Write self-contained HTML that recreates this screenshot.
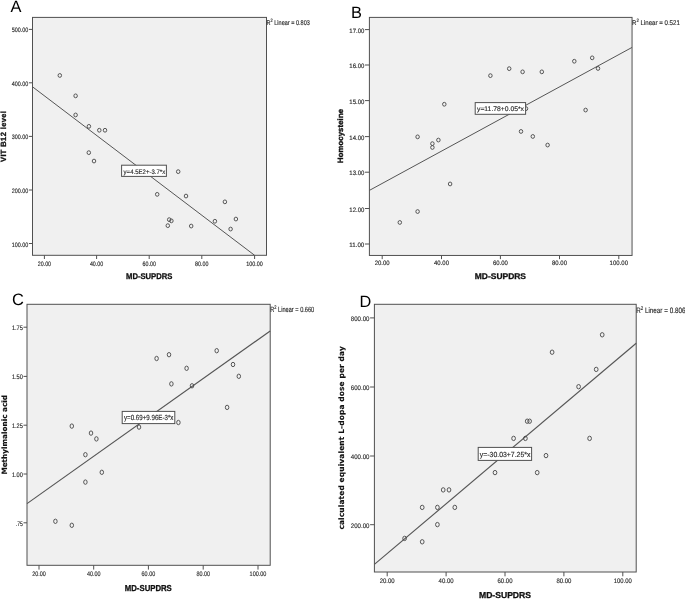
<!DOCTYPE html>
<html lang="en">
<head>
<meta charset="utf-8">
<title>Figure</title>
<style>
html,body{margin:0;padding:0;background:#fff;}
body{width:685px;height:599px;overflow:hidden;}
svg{display:block;font-family:'Liberation Sans', Arial, sans-serif;text-rendering:geometricPrecision;}
</style>
</head>
<body>
<svg width="685" height="599" viewBox="0 0 685 599" style="font-family:'Liberation Sans', Arial, sans-serif">
<rect x="0" y="0" width="685" height="599" fill="#ffffff"/>
<rect x="32.5" y="17.4" width="234.00" height="237.90" fill="#f0f0f0" stroke="#505050" stroke-width="1"/>
<line x1="32.5" y1="86.8" x2="254.6" y2="255.3" stroke="#555" stroke-width="1.0"/>
<ellipse cx="59.8" cy="75.45" rx="1.75" ry="1.9" fill="none" stroke="#464646" stroke-width="0.9"/>
<ellipse cx="75.6" cy="95.85" rx="1.75" ry="1.9" fill="none" stroke="#464646" stroke-width="0.9"/>
<ellipse cx="75.6" cy="114.95" rx="1.75" ry="1.9" fill="none" stroke="#464646" stroke-width="0.9"/>
<ellipse cx="88.9" cy="126.35" rx="1.75" ry="1.9" fill="none" stroke="#464646" stroke-width="0.9"/>
<ellipse cx="99.3" cy="130.25" rx="1.75" ry="1.9" fill="none" stroke="#464646" stroke-width="0.9"/>
<ellipse cx="105" cy="130.25" rx="1.75" ry="1.9" fill="none" stroke="#464646" stroke-width="0.9"/>
<ellipse cx="88.8" cy="152.65" rx="1.75" ry="1.9" fill="none" stroke="#464646" stroke-width="0.9"/>
<ellipse cx="94" cy="161.05" rx="1.75" ry="1.9" fill="none" stroke="#464646" stroke-width="0.9"/>
<ellipse cx="178.2" cy="171.65" rx="1.75" ry="1.9" fill="none" stroke="#464646" stroke-width="0.9"/>
<ellipse cx="157.2" cy="194.35" rx="1.75" ry="1.9" fill="none" stroke="#464646" stroke-width="0.9"/>
<ellipse cx="186" cy="196.05" rx="1.75" ry="1.9" fill="none" stroke="#464646" stroke-width="0.9"/>
<ellipse cx="224.9" cy="201.85" rx="1.75" ry="1.9" fill="none" stroke="#464646" stroke-width="0.9"/>
<ellipse cx="169.2" cy="219.65" rx="1.75" ry="1.9" fill="none" stroke="#464646" stroke-width="0.9"/>
<ellipse cx="171.4" cy="220.85" rx="1.75" ry="1.9" fill="none" stroke="#464646" stroke-width="0.9"/>
<ellipse cx="167.8" cy="225.65" rx="1.75" ry="1.9" fill="none" stroke="#464646" stroke-width="0.9"/>
<ellipse cx="191.2" cy="226.05" rx="1.75" ry="1.9" fill="none" stroke="#464646" stroke-width="0.9"/>
<ellipse cx="214.9" cy="221.25" rx="1.75" ry="1.9" fill="none" stroke="#464646" stroke-width="0.9"/>
<ellipse cx="230.6" cy="229.05" rx="1.75" ry="1.9" fill="none" stroke="#464646" stroke-width="0.9"/>
<ellipse cx="235.9" cy="219.05" rx="1.75" ry="1.9" fill="none" stroke="#464646" stroke-width="0.9"/>
<line x1="28.9" y1="29.4" x2="32.5" y2="29.4" stroke="#505050" stroke-width="1"/>
<text x="28.30" y="32.40" font-size="6.3" text-anchor="end" textLength="16.6" lengthAdjust="spacingAndGlyphs" fill="#2a2a2a" stroke="#2a2a2a" stroke-width="0.15">500.00</text>
<line x1="28.9" y1="82.8" x2="32.5" y2="82.8" stroke="#505050" stroke-width="1"/>
<text x="28.30" y="85.80" font-size="6.3" text-anchor="end" textLength="16.6" lengthAdjust="spacingAndGlyphs" fill="#2a2a2a" stroke="#2a2a2a" stroke-width="0.15">400.00</text>
<line x1="28.9" y1="136.4" x2="32.5" y2="136.4" stroke="#505050" stroke-width="1"/>
<text x="28.30" y="139.40" font-size="6.3" text-anchor="end" textLength="16.6" lengthAdjust="spacingAndGlyphs" fill="#2a2a2a" stroke="#2a2a2a" stroke-width="0.15">300.00</text>
<line x1="28.9" y1="190" x2="32.5" y2="190" stroke="#505050" stroke-width="1"/>
<text x="28.30" y="193.00" font-size="6.3" text-anchor="end" textLength="16.6" lengthAdjust="spacingAndGlyphs" fill="#2a2a2a" stroke="#2a2a2a" stroke-width="0.15">200.00</text>
<line x1="28.9" y1="243.5" x2="32.5" y2="243.5" stroke="#505050" stroke-width="1"/>
<text x="28.30" y="246.50" font-size="6.3" text-anchor="end" textLength="16.6" lengthAdjust="spacingAndGlyphs" fill="#2a2a2a" stroke="#2a2a2a" stroke-width="0.15">100.00</text>
<line x1="44.4" y1="255.3" x2="44.4" y2="259.0" stroke="#505050" stroke-width="1"/>
<text x="44.4" y="265.5" font-size="6.3" text-anchor="middle" textLength="13.4" lengthAdjust="spacingAndGlyphs" fill="#2a2a2a" stroke="#2a2a2a" stroke-width="0.15">20.00</text>
<line x1="96.6" y1="255.3" x2="96.6" y2="259.0" stroke="#505050" stroke-width="1"/>
<text x="96.6" y="265.5" font-size="6.3" text-anchor="middle" textLength="13.4" lengthAdjust="spacingAndGlyphs" fill="#2a2a2a" stroke="#2a2a2a" stroke-width="0.15">40.00</text>
<line x1="149.2" y1="255.3" x2="149.2" y2="259.0" stroke="#505050" stroke-width="1"/>
<text x="149.2" y="265.5" font-size="6.3" text-anchor="middle" textLength="13.4" lengthAdjust="spacingAndGlyphs" fill="#2a2a2a" stroke="#2a2a2a" stroke-width="0.15">60.00</text>
<line x1="201.8" y1="255.3" x2="201.8" y2="259.0" stroke="#505050" stroke-width="1"/>
<text x="201.8" y="265.5" font-size="6.3" text-anchor="middle" textLength="13.4" lengthAdjust="spacingAndGlyphs" fill="#2a2a2a" stroke="#2a2a2a" stroke-width="0.15">80.00</text>
<line x1="254.6" y1="255.3" x2="254.6" y2="259.0" stroke="#505050" stroke-width="1"/>
<text x="254.6" y="265.5" font-size="6.3" text-anchor="middle" textLength="16.6" lengthAdjust="spacingAndGlyphs" fill="#2a2a2a" stroke="#2a2a2a" stroke-width="0.15">100.00</text>
<text x="126" y="278.8" font-size="8.2" font-weight="bold" textLength="46.4" lengthAdjust="spacingAndGlyphs" fill="#111" stroke="#111" stroke-width="0.3">MD-SUPDRS</text>
<text transform="translate(6.0,162) rotate(-90)" font-size="7.6" font-weight="bold" textLength="51" lengthAdjust="spacing" fill="#111" stroke="#111" stroke-width="0.3">VIT B12 level</text>
<rect x="121.6" y="165.2" width="44.80" height="11.20" fill="#fff" stroke="#505050" stroke-width="1"/>
<text x="123.6" y="173.8" font-size="6.6" textLength="41.6" lengthAdjust="spacingAndGlyphs" fill="#2a2a2a" stroke="#2a2a2a" stroke-width="0.15">y=4.5E2+-3.7*x</text>
<text x="266.6" y="24.7" font-size="6.8" textLength="43.2" lengthAdjust="spacingAndGlyphs" fill="#2a2a2a" stroke="#2a2a2a" stroke-width="0.15">R<tspan font-size="4.76" dy="-2.45">2</tspan><tspan dy="2.45"> Linear = 0.803</tspan></text>
<text x="10.6" y="12.4" font-size="16.4" fill="#000">A</text>
<rect x="369.4" y="17.4" width="262.65" height="238.05" fill="#f0f0f0" stroke="#505050" stroke-width="1"/>
<line x1="369.4" y1="190.4" x2="632.05" y2="47.4" stroke="#555" stroke-width="1.0"/>
<ellipse cx="444.3" cy="104.25" rx="1.75" ry="1.9" fill="none" stroke="#464646" stroke-width="0.9"/>
<ellipse cx="417.6" cy="136.85" rx="1.75" ry="1.9" fill="none" stroke="#464646" stroke-width="0.9"/>
<ellipse cx="432.4" cy="143.65" rx="1.75" ry="1.9" fill="none" stroke="#464646" stroke-width="0.9"/>
<ellipse cx="432.4" cy="147.45" rx="1.75" ry="1.9" fill="none" stroke="#464646" stroke-width="0.9"/>
<ellipse cx="438.4" cy="140.05" rx="1.75" ry="1.9" fill="none" stroke="#464646" stroke-width="0.9"/>
<ellipse cx="450.1" cy="183.95" rx="1.75" ry="1.9" fill="none" stroke="#464646" stroke-width="0.9"/>
<ellipse cx="417.6" cy="211.55" rx="1.75" ry="1.9" fill="none" stroke="#464646" stroke-width="0.9"/>
<ellipse cx="399.8" cy="222.45" rx="1.75" ry="1.9" fill="none" stroke="#464646" stroke-width="0.9"/>
<ellipse cx="490.4" cy="75.65" rx="1.75" ry="1.9" fill="none" stroke="#464646" stroke-width="0.9"/>
<ellipse cx="509.2" cy="68.65" rx="1.75" ry="1.9" fill="none" stroke="#464646" stroke-width="0.9"/>
<ellipse cx="522.6" cy="71.85" rx="1.75" ry="1.9" fill="none" stroke="#464646" stroke-width="0.9"/>
<ellipse cx="541.8" cy="71.85" rx="1.75" ry="1.9" fill="none" stroke="#464646" stroke-width="0.9"/>
<ellipse cx="574.3" cy="61.25" rx="1.75" ry="1.9" fill="none" stroke="#464646" stroke-width="0.9"/>
<ellipse cx="592.2" cy="57.85" rx="1.75" ry="1.9" fill="none" stroke="#464646" stroke-width="0.9"/>
<ellipse cx="598" cy="68.45" rx="1.75" ry="1.9" fill="none" stroke="#464646" stroke-width="0.9"/>
<ellipse cx="585.6" cy="110.05" rx="1.75" ry="1.9" fill="none" stroke="#464646" stroke-width="0.9"/>
<ellipse cx="526" cy="108.65" rx="1.75" ry="1.9" fill="none" stroke="#464646" stroke-width="0.9"/>
<ellipse cx="521" cy="131.45" rx="1.75" ry="1.9" fill="none" stroke="#464646" stroke-width="0.9"/>
<ellipse cx="532.8" cy="136.45" rx="1.75" ry="1.9" fill="none" stroke="#464646" stroke-width="0.9"/>
<ellipse cx="547.6" cy="145.05" rx="1.75" ry="1.9" fill="none" stroke="#464646" stroke-width="0.9"/>
<line x1="364.9" y1="29.6" x2="369.4" y2="29.6" stroke="#505050" stroke-width="1"/>
<text x="364.30" y="32.60" font-size="6.3" text-anchor="end" textLength="15" lengthAdjust="spacingAndGlyphs" fill="#2a2a2a" stroke="#2a2a2a" stroke-width="0.15">17.00</text>
<line x1="364.9" y1="65" x2="369.4" y2="65" stroke="#505050" stroke-width="1"/>
<text x="364.30" y="68.00" font-size="6.3" text-anchor="end" textLength="15" lengthAdjust="spacingAndGlyphs" fill="#2a2a2a" stroke="#2a2a2a" stroke-width="0.15">16.00</text>
<line x1="364.9" y1="100.6" x2="369.4" y2="100.6" stroke="#505050" stroke-width="1"/>
<text x="364.30" y="103.60" font-size="6.3" text-anchor="end" textLength="15" lengthAdjust="spacingAndGlyphs" fill="#2a2a2a" stroke="#2a2a2a" stroke-width="0.15">15.00</text>
<line x1="364.9" y1="136.6" x2="369.4" y2="136.6" stroke="#505050" stroke-width="1"/>
<text x="364.30" y="139.60" font-size="6.3" text-anchor="end" textLength="15" lengthAdjust="spacingAndGlyphs" fill="#2a2a2a" stroke="#2a2a2a" stroke-width="0.15">14.00</text>
<line x1="364.9" y1="172.2" x2="369.4" y2="172.2" stroke="#505050" stroke-width="1"/>
<text x="364.30" y="175.20" font-size="6.3" text-anchor="end" textLength="15" lengthAdjust="spacingAndGlyphs" fill="#2a2a2a" stroke="#2a2a2a" stroke-width="0.15">13.00</text>
<line x1="364.9" y1="208.5" x2="369.4" y2="208.5" stroke="#505050" stroke-width="1"/>
<text x="364.30" y="211.50" font-size="6.3" text-anchor="end" textLength="15" lengthAdjust="spacingAndGlyphs" fill="#2a2a2a" stroke="#2a2a2a" stroke-width="0.15">12.00</text>
<line x1="364.9" y1="244" x2="369.4" y2="244" stroke="#505050" stroke-width="1"/>
<text x="364.30" y="247.00" font-size="6.3" text-anchor="end" textLength="15" lengthAdjust="spacingAndGlyphs" fill="#2a2a2a" stroke="#2a2a2a" stroke-width="0.15">11.00</text>
<line x1="382.2" y1="255.45" x2="382.2" y2="259.15" stroke="#505050" stroke-width="1"/>
<text x="382.2" y="265.3" font-size="6.3" text-anchor="middle" textLength="15" lengthAdjust="spacingAndGlyphs" fill="#2a2a2a" stroke="#2a2a2a" stroke-width="0.15">20.00</text>
<line x1="441.5" y1="255.45" x2="441.5" y2="259.15" stroke="#505050" stroke-width="1"/>
<text x="441.5" y="265.3" font-size="6.3" text-anchor="middle" textLength="15" lengthAdjust="spacingAndGlyphs" fill="#2a2a2a" stroke="#2a2a2a" stroke-width="0.15">40.00</text>
<line x1="500.4" y1="255.45" x2="500.4" y2="259.15" stroke="#505050" stroke-width="1"/>
<text x="500.4" y="265.3" font-size="6.3" text-anchor="middle" textLength="15" lengthAdjust="spacingAndGlyphs" fill="#2a2a2a" stroke="#2a2a2a" stroke-width="0.15">60.00</text>
<line x1="559.5" y1="255.45" x2="559.5" y2="259.15" stroke="#505050" stroke-width="1"/>
<text x="559.5" y="265.3" font-size="6.3" text-anchor="middle" textLength="15" lengthAdjust="spacingAndGlyphs" fill="#2a2a2a" stroke="#2a2a2a" stroke-width="0.15">80.00</text>
<line x1="618.8" y1="255.45" x2="618.8" y2="259.15" stroke="#505050" stroke-width="1"/>
<text x="618.8" y="265.3" font-size="6.3" text-anchor="middle" textLength="18.4" lengthAdjust="spacingAndGlyphs" fill="#2a2a2a" stroke="#2a2a2a" stroke-width="0.15">100.00</text>
<text x="474.8" y="278.8" font-size="8.2" font-weight="bold" textLength="51.2" lengthAdjust="spacingAndGlyphs" fill="#111" stroke="#111" stroke-width="0.3">MD-SUPDRS</text>
<text transform="translate(342.9,163) rotate(-90)" font-size="7.7" font-weight="bold" textLength="54" lengthAdjust="spacing" fill="#111" stroke="#111" stroke-width="0.35">Homocysteine</text>
<rect x="475.2" y="102.6" width="50.40" height="11.70" fill="#fff" stroke="#505050" stroke-width="1"/>
<text x="477" y="111.2" font-size="6.7" textLength="47" lengthAdjust="spacingAndGlyphs" fill="#2a2a2a" stroke="#2a2a2a" stroke-width="0.15">y=11.78+0.05*x</text>
<text x="632.0" y="24.5" font-size="6.8" textLength="47.8" lengthAdjust="spacingAndGlyphs" fill="#2a2a2a" stroke="#2a2a2a" stroke-width="0.15">R<tspan font-size="4.76" dy="-2.45">2</tspan><tspan dy="2.45"> Linear = 0.521</tspan></text>
<text x="351.0" y="18" font-size="16.4" fill="#000">B</text>
<rect x="27.0" y="304.3" width="243.20" height="261.00" fill="#f0f0f0" stroke="#505050" stroke-width="1"/>
<line x1="27.0" y1="503.6" x2="270.2" y2="331" stroke="#555" stroke-width="1.15"/>
<ellipse cx="71.8" cy="426.10" rx="1.75" ry="2.2" fill="none" stroke="#464646" stroke-width="0.9"/>
<ellipse cx="91" cy="433.10" rx="1.75" ry="2.2" fill="none" stroke="#464646" stroke-width="0.9"/>
<ellipse cx="96.4" cy="438.90" rx="1.75" ry="2.2" fill="none" stroke="#464646" stroke-width="0.9"/>
<ellipse cx="85.4" cy="454.70" rx="1.75" ry="2.2" fill="none" stroke="#464646" stroke-width="0.9"/>
<ellipse cx="101.8" cy="472.30" rx="1.75" ry="2.2" fill="none" stroke="#464646" stroke-width="0.9"/>
<ellipse cx="85.4" cy="482.10" rx="1.75" ry="2.2" fill="none" stroke="#464646" stroke-width="0.9"/>
<ellipse cx="55.4" cy="521.30" rx="1.75" ry="2.2" fill="none" stroke="#464646" stroke-width="0.9"/>
<ellipse cx="71.8" cy="525.30" rx="1.75" ry="2.2" fill="none" stroke="#464646" stroke-width="0.9"/>
<ellipse cx="156.6" cy="358.50" rx="1.75" ry="2.2" fill="none" stroke="#464646" stroke-width="0.9"/>
<ellipse cx="169" cy="354.70" rx="1.75" ry="2.2" fill="none" stroke="#464646" stroke-width="0.9"/>
<ellipse cx="216.7" cy="350.70" rx="1.75" ry="2.2" fill="none" stroke="#464646" stroke-width="0.9"/>
<ellipse cx="186.6" cy="368.30" rx="1.75" ry="2.2" fill="none" stroke="#464646" stroke-width="0.9"/>
<ellipse cx="233" cy="364.50" rx="1.75" ry="2.2" fill="none" stroke="#464646" stroke-width="0.9"/>
<ellipse cx="171.4" cy="383.90" rx="1.75" ry="2.2" fill="none" stroke="#464646" stroke-width="0.9"/>
<ellipse cx="192" cy="385.80" rx="1.75" ry="2.2" fill="none" stroke="#464646" stroke-width="0.9"/>
<ellipse cx="238.8" cy="376.30" rx="1.75" ry="2.2" fill="none" stroke="#464646" stroke-width="0.9"/>
<ellipse cx="227.1" cy="407.40" rx="1.75" ry="2.2" fill="none" stroke="#464646" stroke-width="0.9"/>
<ellipse cx="178.4" cy="422.50" rx="1.75" ry="2.2" fill="none" stroke="#464646" stroke-width="0.9"/>
<ellipse cx="139" cy="427.10" rx="1.75" ry="2.2" fill="none" stroke="#464646" stroke-width="0.9"/>
<line x1="23.5" y1="327.2" x2="27.0" y2="327.2" stroke="#505050" stroke-width="1"/>
<text x="22.90" y="330.00" font-size="6.6" text-anchor="end" textLength="11" lengthAdjust="spacingAndGlyphs" fill="#2a2a2a" stroke="#2a2a2a" stroke-width="0.15">1.75</text>
<line x1="23.5" y1="376.4" x2="27.0" y2="376.4" stroke="#505050" stroke-width="1"/>
<text x="22.90" y="379.20" font-size="6.6" text-anchor="end" textLength="11" lengthAdjust="spacingAndGlyphs" fill="#2a2a2a" stroke="#2a2a2a" stroke-width="0.15">1.50</text>
<line x1="23.5" y1="425.2" x2="27.0" y2="425.2" stroke="#505050" stroke-width="1"/>
<text x="22.90" y="428.00" font-size="6.6" text-anchor="end" textLength="11" lengthAdjust="spacingAndGlyphs" fill="#2a2a2a" stroke="#2a2a2a" stroke-width="0.15">1.25</text>
<line x1="23.5" y1="474" x2="27.0" y2="474" stroke="#505050" stroke-width="1"/>
<text x="22.90" y="476.80" font-size="6.6" text-anchor="end" textLength="11" lengthAdjust="spacingAndGlyphs" fill="#2a2a2a" stroke="#2a2a2a" stroke-width="0.15">1.00</text>
<line x1="23.5" y1="522.8" x2="27.0" y2="522.8" stroke="#505050" stroke-width="1"/>
<text x="22.90" y="525.60" font-size="6.6" text-anchor="end" textLength="7" lengthAdjust="spacingAndGlyphs" fill="#2a2a2a" stroke="#2a2a2a" stroke-width="0.15">.75</text>
<line x1="39" y1="565.3" x2="39" y2="569.5999999999999" stroke="#505050" stroke-width="1"/>
<text x="39" y="576" font-size="6.6" text-anchor="middle" textLength="13.6" lengthAdjust="spacingAndGlyphs" fill="#2a2a2a" stroke="#2a2a2a" stroke-width="0.15">20.00</text>
<line x1="93.7" y1="565.3" x2="93.7" y2="569.5999999999999" stroke="#505050" stroke-width="1"/>
<text x="93.7" y="576" font-size="6.6" text-anchor="middle" textLength="13.6" lengthAdjust="spacingAndGlyphs" fill="#2a2a2a" stroke="#2a2a2a" stroke-width="0.15">40.00</text>
<line x1="148.4" y1="565.3" x2="148.4" y2="569.5999999999999" stroke="#505050" stroke-width="1"/>
<text x="148.4" y="576" font-size="6.6" text-anchor="middle" textLength="13.6" lengthAdjust="spacingAndGlyphs" fill="#2a2a2a" stroke="#2a2a2a" stroke-width="0.15">60.00</text>
<line x1="203.2" y1="565.3" x2="203.2" y2="569.5999999999999" stroke="#505050" stroke-width="1"/>
<text x="203.2" y="576" font-size="6.6" text-anchor="middle" textLength="13.6" lengthAdjust="spacingAndGlyphs" fill="#2a2a2a" stroke="#2a2a2a" stroke-width="0.15">80.00</text>
<line x1="258.0" y1="565.3" x2="258.0" y2="569.5999999999999" stroke="#505050" stroke-width="1"/>
<text x="258.0" y="576" font-size="6.6" text-anchor="middle" textLength="16.8" lengthAdjust="spacingAndGlyphs" fill="#2a2a2a" stroke="#2a2a2a" stroke-width="0.15">100.00</text>
<text x="124.8" y="590.9" font-size="8.6" font-weight="bold" textLength="47" lengthAdjust="spacingAndGlyphs" fill="#111" stroke="#111" stroke-width="0.3">MD-SUPDRS</text>
<text transform="translate(6.6,474.6) rotate(-90)" font-size="7.3" font-weight="bold" font-family="DejaVu Sans, Liberation Sans, sans-serif" textLength="79.6" lengthAdjust="spacingAndGlyphs" fill="#111" stroke="#111" stroke-width="0.1">Methylmalonic acid</text>
<rect x="122.2" y="411.4" width="52.60" height="12.20" fill="#fff" stroke="#505050" stroke-width="1"/>
<text x="124" y="420.3" font-size="7.4" textLength="49.4" lengthAdjust="spacingAndGlyphs" fill="#2a2a2a" stroke="#2a2a2a" stroke-width="0.15">y=0.69+9.96E-3*x</text>
<text x="270.3" y="312.2" font-size="7.6" textLength="43.9" lengthAdjust="spacingAndGlyphs" fill="#2a2a2a" stroke="#2a2a2a" stroke-width="0.15">R<tspan font-size="5.32" dy="-2.74">2</tspan><tspan dy="2.74"> Linear = 0.660</tspan></text>
<text x="12.0" y="304.8" font-size="16.5" fill="#000">C</text>
<rect x="374.4" y="304.3" width="261.80" height="267.70" fill="#f0f0f0" stroke="#505050" stroke-width="1"/>
<line x1="374.4" y1="564.4" x2="636.2" y2="343.2" stroke="#555" stroke-width="1.15"/>
<ellipse cx="443.2" cy="489.90" rx="1.85" ry="2.2" fill="none" stroke="#464646" stroke-width="0.9"/>
<ellipse cx="449" cy="489.90" rx="1.85" ry="2.2" fill="none" stroke="#464646" stroke-width="0.9"/>
<ellipse cx="422.2" cy="507.40" rx="1.85" ry="2.2" fill="none" stroke="#464646" stroke-width="0.9"/>
<ellipse cx="437.4" cy="507.40" rx="1.85" ry="2.2" fill="none" stroke="#464646" stroke-width="0.9"/>
<ellipse cx="454.8" cy="507.40" rx="1.85" ry="2.2" fill="none" stroke="#464646" stroke-width="0.9"/>
<ellipse cx="437.4" cy="524.60" rx="1.85" ry="2.2" fill="none" stroke="#464646" stroke-width="0.9"/>
<ellipse cx="404.6" cy="538.40" rx="1.85" ry="2.2" fill="none" stroke="#464646" stroke-width="0.9"/>
<ellipse cx="422.2" cy="541.80" rx="1.85" ry="2.2" fill="none" stroke="#464646" stroke-width="0.9"/>
<ellipse cx="552.1" cy="352.20" rx="1.85" ry="2.2" fill="none" stroke="#464646" stroke-width="0.9"/>
<ellipse cx="527.2" cy="421.20" rx="1.85" ry="2.2" fill="none" stroke="#464646" stroke-width="0.9"/>
<ellipse cx="529.6" cy="421.20" rx="1.85" ry="2.2" fill="none" stroke="#464646" stroke-width="0.9"/>
<ellipse cx="513.6" cy="438.40" rx="1.85" ry="2.2" fill="none" stroke="#464646" stroke-width="0.9"/>
<ellipse cx="525.4" cy="438.40" rx="1.85" ry="2.2" fill="none" stroke="#464646" stroke-width="0.9"/>
<ellipse cx="546" cy="455.60" rx="1.85" ry="2.2" fill="none" stroke="#464646" stroke-width="0.9"/>
<ellipse cx="495" cy="472.60" rx="1.85" ry="2.2" fill="none" stroke="#464646" stroke-width="0.9"/>
<ellipse cx="537.2" cy="472.60" rx="1.85" ry="2.2" fill="none" stroke="#464646" stroke-width="0.9"/>
<ellipse cx="602.2" cy="334.80" rx="1.85" ry="2.2" fill="none" stroke="#464646" stroke-width="0.9"/>
<ellipse cx="596.2" cy="369.40" rx="1.85" ry="2.2" fill="none" stroke="#464646" stroke-width="0.9"/>
<ellipse cx="578.6" cy="386.70" rx="1.85" ry="2.2" fill="none" stroke="#464646" stroke-width="0.9"/>
<ellipse cx="589.6" cy="438.40" rx="1.85" ry="2.2" fill="none" stroke="#464646" stroke-width="0.9"/>
<line x1="370.09999999999997" y1="317.9" x2="374.4" y2="317.9" stroke="#505050" stroke-width="1"/>
<text x="369.40" y="321.00" font-size="6.6" text-anchor="end" textLength="18.6" lengthAdjust="spacingAndGlyphs" fill="#2a2a2a" stroke="#2a2a2a" stroke-width="0.15">800.00</text>
<line x1="370.09999999999997" y1="387" x2="374.4" y2="387" stroke="#505050" stroke-width="1"/>
<text x="369.40" y="390.10" font-size="6.6" text-anchor="end" textLength="18.6" lengthAdjust="spacingAndGlyphs" fill="#2a2a2a" stroke="#2a2a2a" stroke-width="0.15">600.00</text>
<line x1="370.09999999999997" y1="456" x2="374.4" y2="456" stroke="#505050" stroke-width="1"/>
<text x="369.40" y="459.10" font-size="6.6" text-anchor="end" textLength="18.6" lengthAdjust="spacingAndGlyphs" fill="#2a2a2a" stroke="#2a2a2a" stroke-width="0.15">400.00</text>
<line x1="370.09999999999997" y1="524.7" x2="374.4" y2="524.7" stroke="#505050" stroke-width="1"/>
<text x="369.40" y="527.80" font-size="6.6" text-anchor="end" textLength="18.6" lengthAdjust="spacingAndGlyphs" fill="#2a2a2a" stroke="#2a2a2a" stroke-width="0.15">200.00</text>
<line x1="387.2" y1="572" x2="387.2" y2="576.3" stroke="#505050" stroke-width="1"/>
<text x="387.2" y="583.3" font-size="6.6" text-anchor="middle" textLength="15" lengthAdjust="spacingAndGlyphs" fill="#2a2a2a" stroke="#2a2a2a" stroke-width="0.15">20.00</text>
<line x1="446.1" y1="572" x2="446.1" y2="576.3" stroke="#505050" stroke-width="1"/>
<text x="446.1" y="583.3" font-size="6.6" text-anchor="middle" textLength="15" lengthAdjust="spacingAndGlyphs" fill="#2a2a2a" stroke="#2a2a2a" stroke-width="0.15">40.00</text>
<line x1="505" y1="572" x2="505" y2="576.3" stroke="#505050" stroke-width="1"/>
<text x="505" y="583.3" font-size="6.6" text-anchor="middle" textLength="15" lengthAdjust="spacingAndGlyphs" fill="#2a2a2a" stroke="#2a2a2a" stroke-width="0.15">60.00</text>
<line x1="563.9" y1="572" x2="563.9" y2="576.3" stroke="#505050" stroke-width="1"/>
<text x="563.9" y="583.3" font-size="6.6" text-anchor="middle" textLength="15" lengthAdjust="spacingAndGlyphs" fill="#2a2a2a" stroke="#2a2a2a" stroke-width="0.15">80.00</text>
<line x1="622.8" y1="572" x2="622.8" y2="576.3" stroke="#505050" stroke-width="1"/>
<text x="622.8" y="583.3" font-size="6.6" text-anchor="middle" textLength="18" lengthAdjust="spacingAndGlyphs" fill="#2a2a2a" stroke="#2a2a2a" stroke-width="0.15">100.00</text>
<text x="479" y="598.2" font-size="8.6" font-weight="bold" textLength="52" lengthAdjust="spacingAndGlyphs" fill="#111" stroke="#111" stroke-width="0.3">MD-SUPDRS</text>
<text transform="translate(344.2,529.6) rotate(-90)" font-size="7.45" font-weight="bold" font-family="DejaVu Sans, Liberation Sans, sans-serif" textLength="183.4" lengthAdjust="spacing" fill="#111" stroke="#111" stroke-width="0.1">calculated equivalent L-dopa dose per day</text>
<rect x="478.2" y="447.4" width="53.40" height="13.00" fill="#fff" stroke="#505050" stroke-width="1"/>
<text x="479.8" y="456.6" font-size="7.4" textLength="50.6" lengthAdjust="spacingAndGlyphs" fill="#2a2a2a" stroke="#2a2a2a" stroke-width="0.15">y=-30.03+7.25*x</text>
<text x="636.2" y="312.5" font-size="7.8" textLength="49.2" lengthAdjust="spacingAndGlyphs" fill="#2a2a2a" stroke="#2a2a2a" stroke-width="0.15">R<tspan font-size="5.46" dy="-2.81">2</tspan><tspan dy="2.81"> Linear = 0.806</tspan></text>
<text x="359.4" y="307" font-size="16.3" fill="#000">D</text>
</svg>
</body>
</html>
